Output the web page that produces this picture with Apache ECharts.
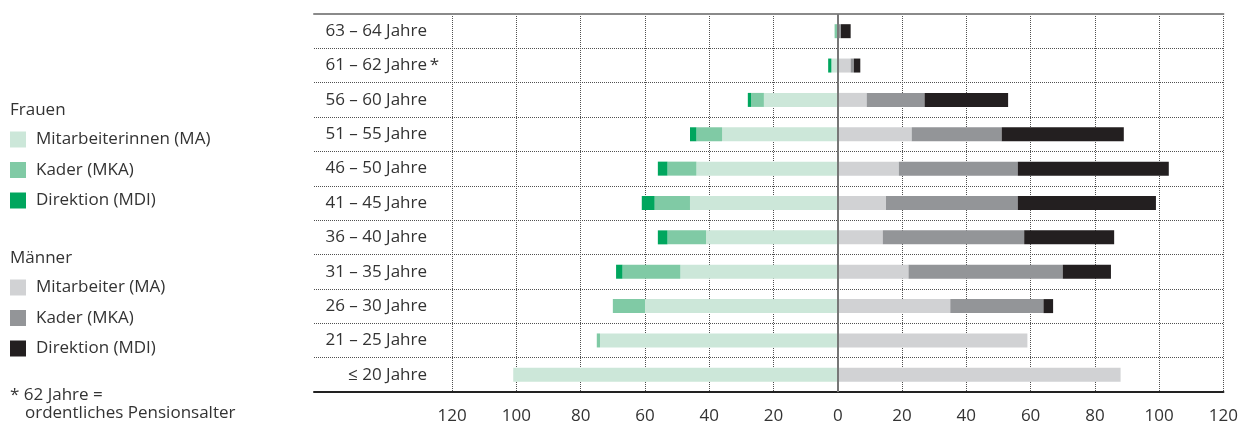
<!DOCTYPE html>
<html>
<head>
<meta charset="utf-8">
<script src="https://cdn.jsdelivr.net/npm/echarts@6/dist/echarts.min.js"></script>
<style>
html, body { margin: 0; padding: 0; background: #fff; }
#chart { width: 1241px; height: 425px; }
</style>
</head>
<body>
<div id="chart"></div>
<script>
// Age groups, top to bottom
const ageGroups = ['63 – 64 Jahre', '61 – 62 Jahre *', '56 – 60 Jahre', '51 – 55 Jahre', '46 – 50 Jahre',
  '41 – 45 Jahre', '36 – 40 Jahre', '31 – 35 Jahre', '26 – 30 Jahre', '21 – 25 Jahre', '≤ 20 Jahre'];

// Frauen (drawn to the left)
const womenMA  = [0, 2, 23, 36, 44, 46, 41, 49, 60, 74, 101];
const womenMKA = [1, 0, 4, 8, 9, 11, 12, 18, 10, 1, 0];
const womenMDI = [0, 1, 1, 2, 3, 4, 3, 2, 0, 0, 0];

// Männer (drawn to the right)
const menMA  = [0, 4, 9, 23, 19, 15, 14, 22, 35, 59, 88];
const menMKA = [1, 1, 18, 28, 37, 41, 44, 48, 29, 0, 0];
const menMDI = [3, 2, 26, 38, 47, 43, 28, 15, 3, 0, 0];

// Value axis tick labels (shown as absolute numbers on both sides)
const tickValues = [-120, -100, -80, -60, -40, -20, 0, 20, 40, 60, 80, 100, 120];

const legendWomen = ['Mitarbeiterinnen (MA)', 'Kader (MKA)', 'Direktion (MDI)'];
const legendMen = ['Mitarbeiter (MA)', 'Kader (MKA)', 'Direktion (MDI)'];

const FONT = '"Open Sans", "Noto Sans", sans-serif';
const TEXT = '#333333';
const FS = 17;

const colorsWomen = ['#cce7d9', '#80caa5', '#00a65e'];
const colorsMen = ['#d1d2d4', '#939598', '#231f20'];

const GRID_LINE = { color: '#505050', type: 'dotted', width: 1 };

const neg = arr => arr.map(v => -v);

function barSeries(name, data, color, extra) {
  return Object.assign({
    type: 'bar',
    name: name,
    stack: 'total',
    barWidth: 14,
    data: data,
    itemStyle: { color: color },
    emphasis: { disabled: true },
    silent: true
  }, extra || {});
}

const series = [
  barSeries('Frauen|' + legendWomen[0], neg(womenMA), colorsWomen[0]),
  barSeries('Frauen|' + legendWomen[1], neg(womenMKA), colorsWomen[1]),
  barSeries('Frauen|' + legendWomen[2], neg(womenMDI), colorsWomen[2]),
  barSeries('Männer|' + legendMen[0], menMA, colorsMen[0]),
  barSeries('Männer|' + legendMen[1], menMKA, colorsMen[1]),
  barSeries('Männer|' + legendMen[2], menMDI, colorsMen[2], {
    markLine: {
      silent: true,
      symbol: 'none',
      label: { show: false },
      lineStyle: { color: '#777777', width: 2, type: 'solid' },
      data: [{ xAxis: 0 }]
    }
  })
];

const legendBase = {
  orient: 'vertical',
  left: 10,
  padding: 0,
  itemWidth: 16,
  itemHeight: 16,
  itemGap: 13.5,
  icon: 'rect',
  selectedMode: false,
  formatter: n => n.split('|')[1],
  textStyle: { fontFamily: FONT, fontSize: FS, color: TEXT, lineHeight: 16, padding: [0, 0, 0, 5] }
};

const titleStyle = { fontFamily: FONT, fontSize: FS, color: TEXT, fontWeight: 'normal' };

const chart = echarts.init(document.getElementById('chart'), null, { renderer: 'canvas' });
chart.setOption({
  animation: false,
  backgroundColor: '#ffffff',
  title: [
    { text: 'Frauen', left: 10, top: 102, padding: 0, textStyle: titleStyle },
    { text: 'Männer', left: 10, top: 250, padding: 0, textStyle: titleStyle },
    { text: '* 62 Jahre =', left: 10, top: 387, padding: 0, textStyle: titleStyle },
    { text: 'ordentliches Pensionsalter', left: 25, top: 405, padding: 0, textStyle: titleStyle }
  ],
  legend: [
    Object.assign({}, legendBase, { top: 131, data: series.slice(0, 3).map(s => s.name) }),
    Object.assign({}, legendBase, { top: 279, data: series.slice(3).map(s => s.name) })
  ],
  grid: { left: 314, right: 16, top: 14, bottom: 33, containLabel: false },
  xAxis: [
    {
      type: 'value',
      position: 'bottom',
      min: -163,
      max: 120,
      axisLine: { show: true, onZero: false, lineStyle: { color: '#222222', width: 2 } },
      axisTick: { show: false, customValues: tickValues },
      axisLabel: {
        customValues: tickValues,
        formatter: v => String(Math.abs(v)),
        fontFamily: FONT, fontSize: FS, color: TEXT, margin: 16
      },
      splitLine: { show: true, lineStyle: GRID_LINE }
    },
    {
      type: 'value',
      position: 'top',
      min: -163,
      max: 120,
      axisLine: { show: true, onZero: false, lineStyle: { color: '#8a8a8a', width: 2 } },
      axisTick: { show: false },
      axisLabel: { show: false },
      splitLine: { show: false }
    }
  ],
  yAxis: [
    {
      type: 'category',
      inverse: true,
      data: ageGroups,
      axisLine: { show: false },
      axisTick: { show: false },
      splitLine: { show: true, lineStyle: GRID_LINE },
      axisLabel: {
        inside: true,
        align: 'right',
        margin: 113,
        formatter: v => v.replace(' *', ''),
        fontFamily: FONT, fontSize: FS, color: TEXT
      }
    },
    {
      type: 'category',
      inverse: true,
      position: 'left',
      data: ageGroups,
      axisLine: { show: false },
      axisTick: { show: false },
      splitLine: { show: false },
      axisLabel: {
        inside: true,
        align: 'right',
        margin: 125,
        formatter: v => (v.endsWith(' *') ? '*' : ''),
        fontFamily: FONT, fontSize: FS, color: TEXT
      }
    }
  ],
  series: series
});
</script>
</body>
</html>
